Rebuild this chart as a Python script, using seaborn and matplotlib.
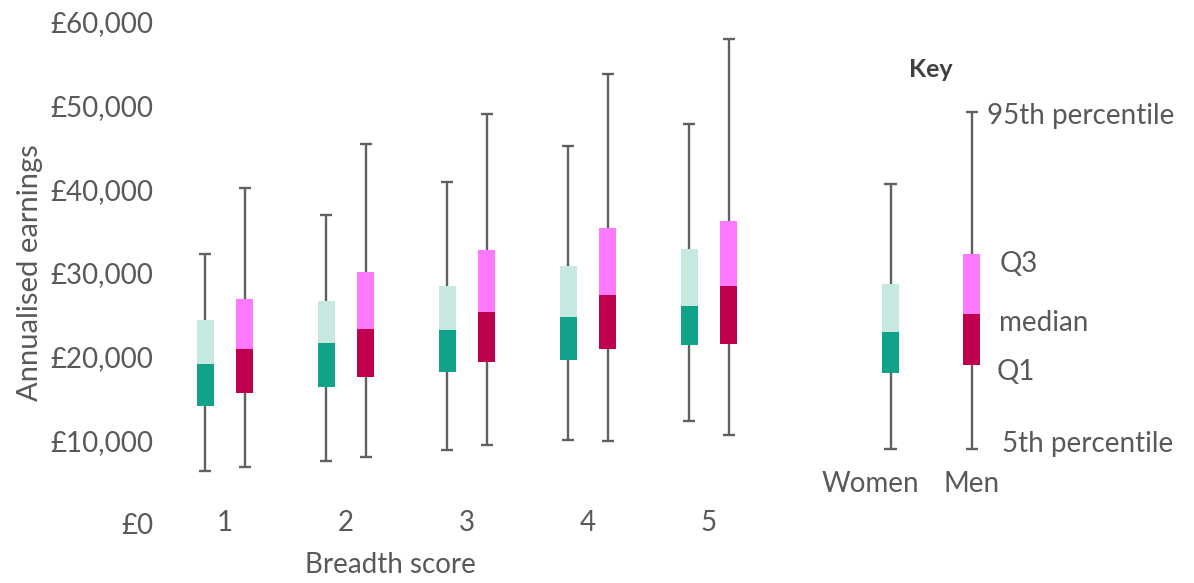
import numpy as np
import matplotlib
matplotlib.use("Agg")
import matplotlib.pyplot as plt
import seaborn as sns
import pandas as pd

# Breadth score categories and earnings percentiles
scores = [1, 2, 3, 4, 5]
women_p5 = [6300, 7500, 8800, 10000, 12300]
women_q1 = [14100, 16400, 18200, 19600, 21400]
women_med = [19100, 21600, 23200, 24700, 26000]
women_q3 = [24400, 26700, 28400, 30800, 32900]
women_p95 = [32300, 36900, 40900, 45200, 47800]
men_p5 = [6800, 8000, 9500, 9900, 10600]
men_q1 = [15600, 17600, 19400, 20900, 21500]
men_med = [20900, 23300, 25300, 27400, 28400]
men_q3 = [26900, 30100, 32700, 35400, 36200]
men_p95 = [40100, 45400, 49000, 53800, 58000]

# Key example boxes
key_groups = ["Women", "Men"]
key_p5 = [9000, 9000]
key_q1 = [18000, 19000]
key_med = [22900, 25100]
key_q3 = [28700, 32300]
key_p95 = [40600, 49300]
key_labels = ["95th percentile", "Q3", "median", "Q1", "5th percentile"]

yticks = [0, 10000, 20000, 30000, 40000, 50000, 60000]

colors = {"Women": ("#11A28A", "#C5E8E1"), "Men": ("#BE004F", "#FF79FF")}
grey = "#595959"
whisker = "#606060"

sns.set_theme(style="white")
plt.rcParams["font.family"] = ["Lato", "DejaVu Sans"]

df = pd.concat([
    pd.DataFrame({"score": scores, "sex": "Women", "p5": women_p5, "q1": women_q1,
                  "med": women_med, "q3": women_q3, "p95": women_p95}),
    pd.DataFrame({"score": scores, "sex": "Men", "p5": men_p5, "q1": men_q1,
                  "med": men_med, "q3": men_q3, "p95": men_p95}),
])
df["x"] = df["score"] + np.where(df["sex"] == "Women", -0.165, 0.165)

key = pd.DataFrame({"sex": key_groups, "p5": key_p5, "q1": key_q1,
                    "med": key_med, "q3": key_q3, "p95": key_p95})
key["x"] = [6.50, 7.17]

fig = plt.figure(figsize=(11.94, 5.83), dpi=100)
ax = fig.add_axes([170 / 1194, 59 / 583, 1020 / 1194, 502 / 583])


def draw_boxes(frame):
    for _, r in frame.iterrows():
        dark, light = colors[r["sex"]]
        ax.vlines(r["x"], r["p5"], r["p95"], color=whisker, lw=1.7, zorder=1)
        ax.hlines([r["p5"], r["p95"]], r["x"] - 0.05, r["x"] + 0.05,
                  color=whisker, lw=1.7, zorder=1)
        ax.bar(r["x"], r["med"] - r["q1"], bottom=r["q1"], width=0.14,
               color=dark, zorder=2, linewidth=0)
        ax.bar(r["x"], r["q3"] - r["med"], bottom=r["med"], width=0.14,
               color=light, zorder=2, linewidth=0)


draw_boxes(df)
draw_boxes(key)

fs = 20
ax.set_xlim(1 - 55 / 121, 1 + 965 / 121)
ax.set_ylim(0, 60000)
ax.set_yticks(yticks)
ax.set_yticklabels([f"£{v:,.0f}" for v in yticks], color=grey, fontsize=fs)
ax.set_xticks(scores)
ax.set_xticklabels([str(s) for s in scores], color=grey, fontsize=fs)
ax.tick_params(axis="y", length=0, pad=12)
ax.tick_params(axis="x", length=0, pad=-10)
sns.despine(ax=ax, left=True, bottom=True)

ax.set_ylabel("Annualised earnings", color=grey, fontsize=21)
ax.yaxis.set_label_coords(-127 / 1020, 0.5)
ax.set_xlabel("Breadth score", color=grey, fontsize=fs)
ax.xaxis.set_label_coords((390 - 170) / 1020, -0.055)

# Key annotations
ax.text(6.835, 54300, "Key", ha="center", va="center", fontsize=18,
        fontweight="bold", color="#404040")
ax.text(6.33, 4800, "Women", ha="center", va="center", fontsize=fs, color=grey)
ax.text(7.17, 4800, "Men", ha="center", va="center", fontsize=fs, color=grey)
label_y = [48800, 31100, 24000, 18200, 9600]
label_x = [7.30, 7.40, 7.40, 7.38, 7.42]
for lx, ly, txt in zip(label_x, label_y, key_labels):
    ax.text(lx, ly, txt, ha="left", va="center", fontsize=fs, color=grey)

fig.savefig("out.png", dpi=100)
